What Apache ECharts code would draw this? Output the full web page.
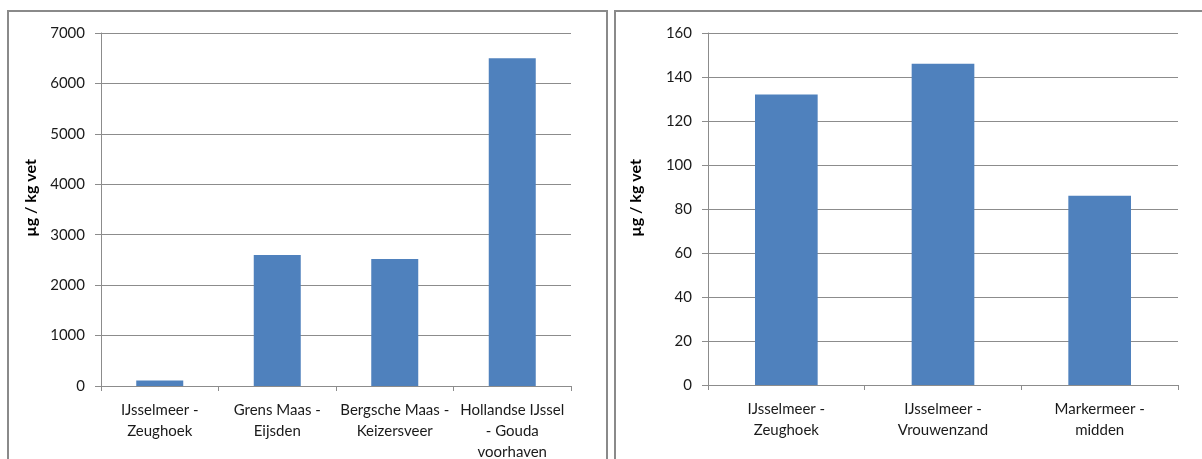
<!DOCTYPE html>
<html>
<head>
<meta charset="utf-8">
<script src="https://cdn.jsdelivr.net/npm/echarts@6/dist/echarts.min.js"></script>
<style>
html,body{margin:0;padding:0;background:#fff;}
#c{width:1202px;height:459px;}
</style>
</head>
<body>
<div id="c"></div>
<script>
// Left chart data
var leftCategories = ['IJsselmeer -\nZeughoek', 'Grens Maas -\nEijsden', 'Bergsche Maas -\nKeizersveer', 'Hollandse IJssel\n- Gouda\nvoorhaven'];
var leftValues = [110, 2600, 2520, 6500];
// Right chart data
var rightCategories = ['IJsselmeer -\nZeughoek', 'IJsselmeer -\nVrouwenzand', 'Markermeer -\nmidden'];
var rightValues = [132, 146, 86];
var yTitle = 'µg / kg vet';

var FONT = 'Lato, "Open Sans", sans-serif';
var TXT = '#1a1a1a';
var AX = '#8c8c8c';
var BAR = '#4F81BD';

function yAxisCfg(gridIndex, max, interval) {
  return {
    type: 'value', gridIndex: gridIndex, min: 0, max: max, interval: interval,
    axisLine: {show: true, lineStyle: {color: AX, width: 1}},
    axisTick: {show: true, length: 6, lineStyle: {color: AX}},
    splitLine: {show: true, lineStyle: {color: AX, width: 1}},
    axisLabel: {fontFamily: FONT, fontSize: 15, color: TXT, margin: 16, formatter: function (v) { return String(v); }}
  };
}
function xAxisCfg(gridIndex, cats) {
  return {
    type: 'category', gridIndex: gridIndex, data: cats,
    axisLine: {show: true, lineStyle: {color: AX, width: 1}},
    axisTick: {show: true, length: 5, lineStyle: {color: AX}},
    axisLabel: {fontFamily: FONT, fontSize: 15, color: TXT, margin: 14, lineHeight: 21, interval: 0}
  };
}
function titleText(x, y) {
  return {type: 'text', x: x, y: y, rotation: Math.PI / 2, z: 5,
    style: {text: yTitle, align: 'center', verticalAlign: 'middle', fill: '#000',
      font: 'bold 16px ' + FONT}};
}

var chart = echarts.init(document.getElementById('c'), null, {renderer: 'canvas'});
chart.setOption({
  animation: false,
  backgroundColor: '#fff',
  graphic: [
    {type: 'rect', shape: {x: 8, y: 11, width: 599, height: 470}, style: {fill: 'none', stroke: '#8a8a8a', lineWidth: 2}, z: 0},
    {type: 'rect', shape: {x: 615, y: 11, width: 600, height: 470}, style: {fill: 'none', stroke: '#8a8a8a', lineWidth: 2}, z: 0},
    titleText(31, 198),
    titleText(636, 198)
  ],
  grid: [
    {left: 101, right: 631, top: 33, bottom: 73, containLabel: false, outerBoundsMode: 'none'},
    {left: 708, right: 24, top: 33, bottom: 74, containLabel: false, outerBoundsMode: 'none'}
  ],
  xAxis: [xAxisCfg(0, leftCategories), xAxisCfg(1, rightCategories)],
  yAxis: [yAxisCfg(0, 7000, 1000), yAxisCfg(1, 160, 20)],
  series: [
    {type: 'bar', xAxisIndex: 0, yAxisIndex: 0, data: leftValues, barWidth: '40%', itemStyle: {color: BAR}},
    {type: 'bar', xAxisIndex: 1, yAxisIndex: 1, data: rightValues, barWidth: '40%', itemStyle: {color: BAR}}
  ]
});
</script>
</body>
</html>
